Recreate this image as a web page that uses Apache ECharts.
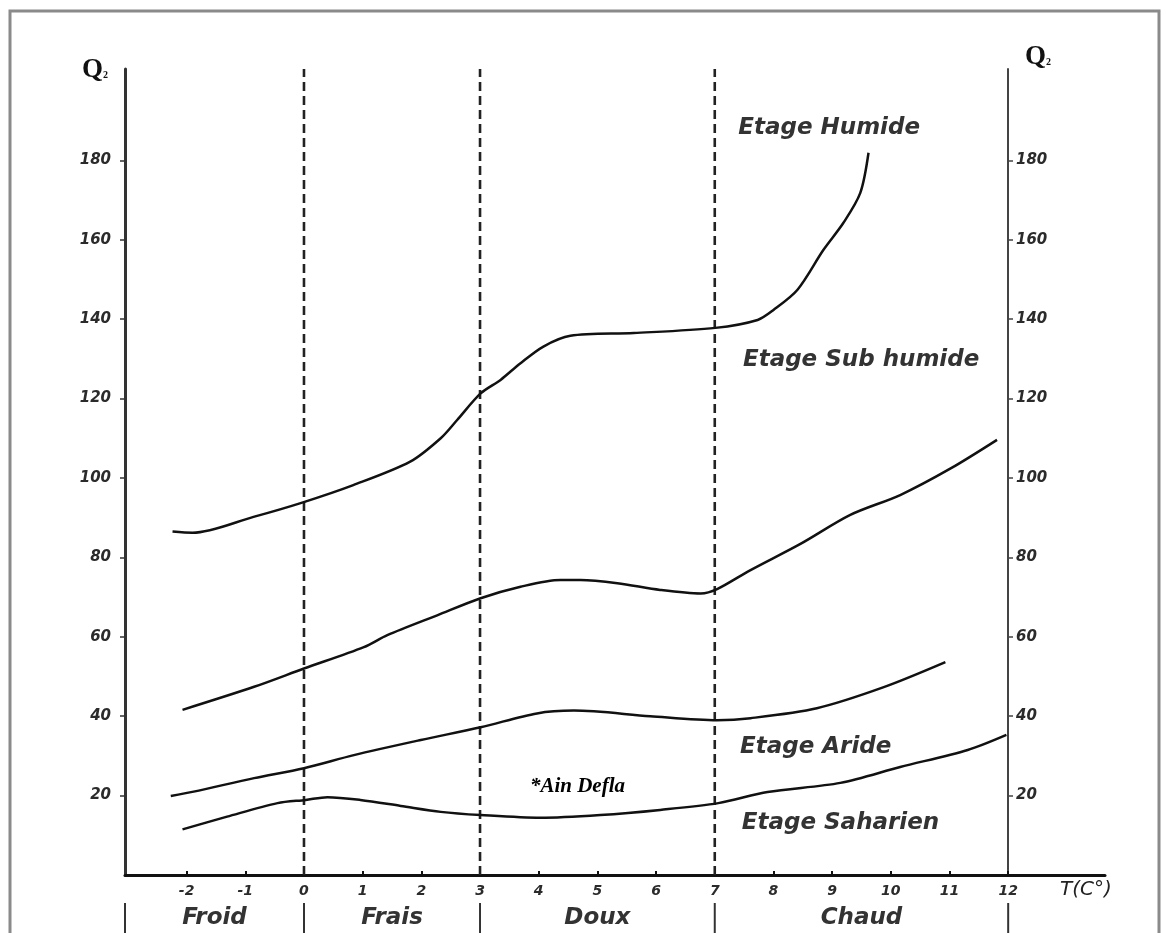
<!DOCTYPE html>
<html><head><meta charset="utf-8">
<script src="https://cdn.jsdelivr.net/npm/echarts@6/dist/echarts.min.js"></script>
<style>html,body{margin:0;padding:0;background:#fff}#c{width:1166px;height:933px}</style>
</head><body><div id="c"></div>
<script>
// ---- data ----
const xTickValues = [-2,-1,0,1,2,3,4,5,6,7,8,9,10,11,12];
const yTickValues = [20,40,60,80,100,120,140,160,180];
const humideLimit = [[-2.24,86.5],[-1.9,86.2],[-0.86,90.2],[-0.03,93.8],[0.84,98.2],[1.81,104.1],[2.33,110],[2.61,114.6],[3.01,121.3],[3.35,124.7],[3.69,128.9],[4.08,133.1],[4.54,135.8],[5.62,136.5],[7.01,137.8],[7.73,139.8],[8.0,142.3],[8.41,147.4],[8.85,157.4],[9.19,164.2],[9.48,171.8],[9.62,181.9]];
const subHumideLimit = [[-2.07,41.6],[-0.85,47.4],[0,52],[1.02,57.4],[1.42,60.4],[2.27,65.4],[3.01,69.7],[3.69,72.6],[4.37,74.3],[4.71,74.3],[5.34,73.5],[6.07,71.8],[6.76,70.9],[7.04,72],[7.61,76.8],[8.46,83.4],[9.31,90.7],[10.16,95.7],[11.02,102.4],[11.81,109.6]];
const arideLimit = [[-2.27,19.9],[-1.88,21],[-0.85,24.4],[0,26.9],[0.85,30.2],[1.99,34],[3.01,37.2],[3.97,40.7],[4.6,41.4],[5.9,40],[7.04,39],[7.61,39.5],[8.74,42],[9.88,47.3],[10.93,53.6]];
const saharienLimit = [[-2.07,11.5],[-1.31,14.7],[-0.45,18.1],[0.03,18.9],[0.4,19.6],[0.96,18.9],[1.65,17.4],[2.33,15.9],[3.01,15.1],[4.03,14.4],[5.05,15.1],[6.07,16.4],[7.06,18.1],[7.9,20.9],[9.14,23.2],[10.16,27.2],[11.31,31.5],[11.97,35.3]];
const thermalBounds = [0,3,7];
const zoneEdges = [-3.05,0,3,7,12];
const zoneNames = ['Froid','Frais','Doux','Chaud'];
const zoneCenters = [-1.525,1.5,5,9.5];
const etageNames = ['Etage Humide','Etage Sub humide','Etage Aride','Etage Saharien'];
const etageAnchors = [[7.40,188.2],[7.48,129.7],[7.43,32.2],[7.46,13.1]];
const stationName = '*Ain Defla';
const stationAnchor = [3.85,22.2];
const Y_MAX = 203;

// ---- chart ----
const chart = echarts.init(document.getElementById('c'), null, {renderer:'canvas'});
const tickFont = {fontFamily:'DejaVu Sans', fontStyle:'italic', fontWeight:'bold', fontSize:14, color:'#2b2b2b'};
const curveStyle = {color:'#111', width:2.5};

function curve(name, data){
  return {name, type:'line', xAxisIndex:0, yAxisIndex:0, data, smooth:0.3, showSymbol:false, symbol:'none',
    lineStyle:curveStyle, silent:true, z:5};
}
const series = [
  curve('humide', humideLimit),
  curve('subhumide', subHumideLimit),
  curve('aride', arideLimit),
  curve('saharien', saharienLimit),
];
thermalBounds.forEach((t,i)=>{
  series.push({name:'bound'+i, type:'line', xAxisIndex:0, yAxisIndex:0, data:[[t,0],[t,Y_MAX]], showSymbol:false, symbol:'none',
    lineStyle:{color:'#222', width:2.6, type:[9,5]}, silent:true, z:4});
});
series.push({name:'etages', type:'scatter', xAxisIndex:0, yAxisIndex:0, symbolSize:0, itemStyle:{opacity:1},
  data: etageNames.map((n,i)=>({name:n, value:etageAnchors[i]})),
  label:{show:true, opacity:1, position:'right', distance:0, formatter:'{b}', fontFamily:'DejaVu Sans', fontStyle:'italic', fontWeight:'bold', fontSize:23, color:'#333'}, silent:true});
series.push({name:'station', type:'scatter', xAxisIndex:0, yAxisIndex:0, symbolSize:0, itemStyle:{opacity:1},
  data:[{name:stationName, value:stationAnchor}],
  label:{show:true, opacity:1, position:'right', distance:0, formatter:'{b}', fontFamily:'Liberation Serif', fontStyle:'italic', fontWeight:'bold', fontSize:21, color:'#000'}, silent:true});
zoneEdges.forEach((e,i)=>{
  series.push({name:'sep'+i, type:'line', xAxisIndex:1, yAxisIndex:2, data:[[e,0],[e,1]], showSymbol:false, symbol:'none',
    lineStyle:{color:'#333', width:2}, silent:true});
});
series.push({name:'zones', type:'scatter', xAxisIndex:1, yAxisIndex:2, symbolSize:0, itemStyle:{opacity:1},
  data: zoneNames.map((n,i)=>({name:n, value:[zoneCenters[i],0.5]})),
  label:{show:true, opacity:1, position:'inside', formatter:'{b}', fontFamily:'DejaVu Sans', fontStyle:'italic', fontWeight:'bold', fontSize:23, color:'#333'}, silent:true});

const q2 = {q:{fontFamily:'Liberation Serif', fontWeight:'bold', fontSize:27, fill:'#111'}, s:{fontFamily:'Liberation Serif', fontWeight:'bold', fontSize:10, fill:'#111', padding:[10,0,0,0]}};
const option = {
  backgroundColor:'#fff',
  animation:false,
  grid:[
    {left:125, right:61, top:69, bottom:58},
    {left:125, right:61, top:903, bottom:0}
  ],
  xAxis:[
    {type:'value', gridIndex:0, min:-3.05, max:13.65, splitLine:{show:false},
      axisLine:{show:true, onZero:false, lineStyle:{color:'#111', width:3}},
      axisTick:{show:true, inside:true, length:4, lineStyle:{color:'#111', width:2}, customValues:xTickValues},
      axisLabel:Object.assign({show:true, margin:9, customValues:xTickValues}, tickFont)},
    {type:'value', gridIndex:1, min:-3.05, max:13.65, show:false}
  ],
  yAxis:[
    {type:'value', gridIndex:0, position:'left', min:0, max:Y_MAX, splitLine:{show:false},
      axisLine:{show:true, onZero:false, lineStyle:{color:'#333', width:3}},
      axisTick:{show:true, length:5, lineStyle:{color:'#333', width:1.5}, customValues:yTickValues},
      axisLabel:Object.assign({show:true, margin:14, customValues:yTickValues}, tickFont, {fontSize:15})},
    {type:'value', gridIndex:0, position:'right', offset:-97, min:0, max:Y_MAX, splitLine:{show:false},
      axisLine:{show:true, onZero:false, lineStyle:{color:'#444', width:2}},
      axisTick:{show:true, length:5, lineStyle:{color:'#444', width:1.5}, customValues:yTickValues},
      axisLabel:Object.assign({show:true, margin:8, customValues:yTickValues}, tickFont, {fontSize:15})},
    {type:'value', gridIndex:1, min:0, max:1, show:false}
  ],
  graphic:[
    {type:'rect', shape:{x:10, y:11, width:1149, height:940}, style:{fill:'none', stroke:'#8a8a8a', lineWidth:3}, silent:true},
    {type:'text', left:82, top:57, style:{text:'{q|Q}{s|2}', rich:q2}},
    {type:'text', left:1025, top:44, style:{text:'{q|Q}{s|2}', rich:q2}},
    {type:'text', left:1060, top:880, style:{text:'T(C°)', fontFamily:'DejaVu Sans', fontStyle:'italic', fontSize:20, fill:'#222'}}
  ],
  series
};
chart.setOption(option);
</script>
</body></html>
